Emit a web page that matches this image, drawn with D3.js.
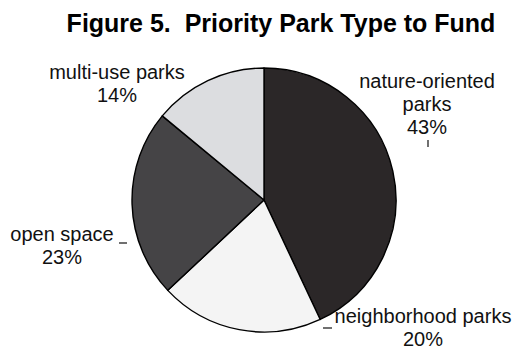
<!DOCTYPE html>
<html>
<head>
<meta charset="utf-8">
<script src="https://cdn.jsdelivr.net/npm/d3@7/dist/d3.min.js"></script>
<style>
  html, body { margin: 0; padding: 0; background: #fff; }
  svg { display: block; font-family: "Liberation Sans", Arial, Helvetica, sans-serif; }
</style>
</head>
<body>
<svg id="chart" width="521" height="350"></svg>
<script>
// Park types and their share of votes, clockwise from 12 o'clock
const categories = ["nature-oriented parks", "neighborhood parks", "open space", "multi-use parks"];
const shares = [43, 20, 23, 14];
const sliceColors = ["#2b2728", "#f4f4f4", "#454446", "#dcdde0"];
const titleText = "Figure 5.  Priority Park Type to Fund";

// Label text lines for each slice (name lines, then the percentage)
const labelLines = [
  ["nature-oriented", "parks"],
  ["neighborhood parks"],
  ["open space"],
  ["multi-use parks"]
];

const svg = d3.select("#chart");
const cx = 264, cy = 200, r = 132;

svg.append("text")
  .attr("x", 281).attr("y", 32)
  .attr("text-anchor", "middle")
  .attr("font-size", 25).attr("font-weight", "bold")
  .attr("fill", "#000")
  .style("white-space", "pre")
  .text(titleText);

const data = categories.map((c, i) => ({ name: c, value: shares[i], color: sliceColors[i], lines: labelLines[i] }));

const pie = d3.pie().sort(null).value(d => d.value);
const arc = d3.arc().innerRadius(0).outerRadius(r);

const g = svg.append("g").attr("transform", `translate(${cx},${cy})`);
g.selectAll("path")
  .data(pie(data))
  .join("path")
  .attr("d", arc)
  .attr("fill", d => d.data.color)
  .attr("stroke", "#000")
  .attr("stroke-width", 1.4)
  .attr("stroke-linejoin", "round");

// Label placement (centre x, first baseline) for each slice
const labelPos = [
  { x: 427, y: 88 },
  { x: 423, y: 323 },
  { x: 62, y: 241 },
  { x: 117, y: 79 }
];
const lineStep = 23;

data.forEach((d, i) => {
  const t = svg.append("text")
    .attr("text-anchor", "middle")
    .attr("font-size", 20)
    .attr("fill", "#111");
  const all = d.lines.concat([d.value + "%"]);
  all.forEach((line, k) => {
    t.append("tspan")
      .attr("x", labelPos[i].x)
      .attr("y", labelPos[i].y + k * lineStep)
      .text(line);
  });
});

// Short leader marks joining labels to slices
const leaders = [
  [428, 140, 428, 147],
  [323, 328, 332, 328],
  [119, 243, 127, 243]
];
svg.selectAll("line.leader")
  .data(leaders)
  .join("line")
  .attr("class", "leader")
  .attr("x1", d => d[0]).attr("y1", d => d[1])
  .attr("x2", d => d[2]).attr("y2", d => d[3])
  .attr("stroke", "#111")
  .attr("stroke-width", 1.2);
</script>
</body>
</html>
